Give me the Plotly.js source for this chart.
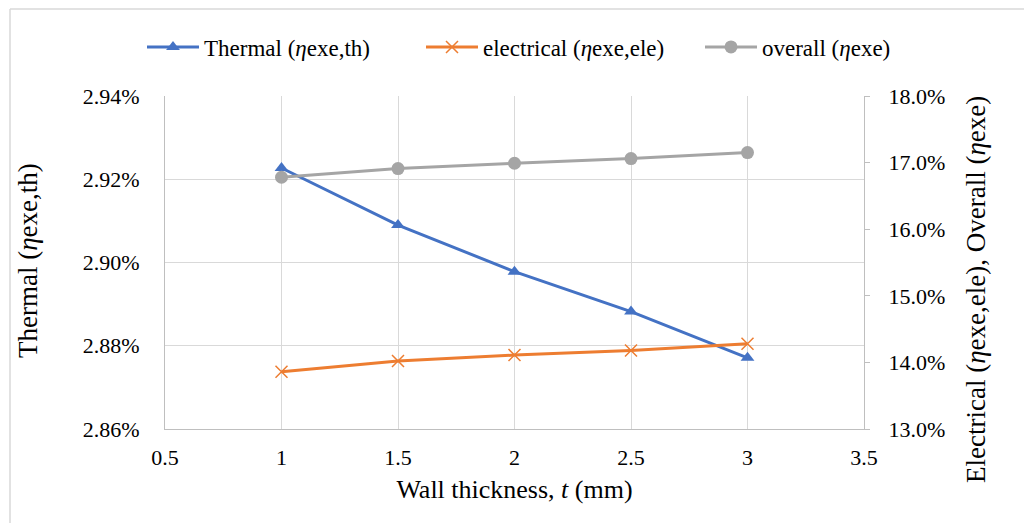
<!DOCTYPE html>
<html>
<head>
<meta charset="utf-8">
<script src="https://cdn.plot.ly/plotly-3.0.1.min.js"></script>
<style>
  html, body { margin: 0; padding: 0; background: #ffffff; }
  #chart { width: 1024px; height: 523px; }
</style>
</head>
<body>
<div id="chart"></div>
<script>
// Data
const wallThickness = [1, 1.5, 2, 2.5, 3];
const thermalEff    = [2.9227, 2.9090, 2.8978, 2.8882, 2.8771];   // % (left axis)
const electricalEff = [13.86, 14.02, 14.11, 14.18, 14.28];        // % (right axis)
const overallEff    = [16.78, 16.91, 16.99, 17.06, 17.15];        // % (right axis)

const seriesNames = [
  'Thermal (<i>η</i>exe,th)',
  'electrical (<i>η</i>exe,ele)',
  'overall (<i>η</i>exe)'
];
const xTitle = 'Wall thickness, <i>t</i> (mm)';
const yTitleLeft = 'Thermal (<i>η</i>exe,th)';
const yTitleRight = 'Electrical (<i>η</i>exe,ele), Overall (<i>η</i>exe)';

const FONT = 'Liberation Serif, Times New Roman, serif';
const AXIS_LINE = '#bfbfbf';
const GRID = '#d9d9d9';

const traces = [
  {
    x: wallThickness, y: thermalEff, name: seriesNames[0],
    type: 'scatter', mode: 'lines+markers', yaxis: 'y',
    line: { color: '#4472C4', width: 3 },
    marker: { symbol: 'triangle-up', size: 12, color: '#4472C4' }
  },
  {
    x: wallThickness, y: electricalEff, name: seriesNames[1],
    type: 'scatter', mode: 'lines+markers', yaxis: 'y2',
    line: { color: '#ED7D31', width: 3 },
    marker: { symbol: 'x-thin', size: 12, color: '#ED7D31', line: { color: '#ED7D31', width: 1.5 } }
  },
  {
    x: wallThickness, y: overallEff, name: seriesNames[2],
    type: 'scatter', mode: 'lines+markers', yaxis: 'y2',
    line: { color: '#A5A5A5', width: 3 },
    marker: { symbol: 'circle', size: 13, color: '#A5A5A5' }
  }
];

const px2x = p => (p - 165) / 699;
const py2y = p => (429 - p) / 333;

const layout = {
  width: 1024, height: 523,
  margin: { l: 165, r: 160, t: 96, b: 94 },
  paper_bgcolor: '#ffffff', plot_bgcolor: '#ffffff',
  font: { family: FONT, size: 22, color: '#000000' },
  showlegend: true,
  legend: {
    orientation: 'h', x: px2x(142), xanchor: 'left', y: py2y(47), yanchor: 'middle',
    font: { family: FONT, size: 23, color: '#000000' },
    bgcolor: 'rgba(0,0,0,0)',
    traceorder: 'normal', itemwidth: 52,
    entrywidth: 212, entrywidthmode: 'pixels'
  },
  xaxis: {
    range: [0.5, 3.5], dtick: 0.5, tick0: 0.5,
    showgrid: true, gridcolor: GRID, gridwidth: 1,
    showline: true, linecolor: AXIS_LINE, linewidth: 1,
    ticks: '', zeroline: false, ticklabelstandoff: 9,
    tickfont: { family: FONT, size: 22, color: '#000' },
    title: { text: xTitle, font: { family: FONT, size: 26, color: '#000' }, standoff: 10 }
  },
  yaxis: {
    range: [2.86, 2.94], dtick: 0.02, tick0: 2.86,
    tickformat: '.2f', ticksuffix: '%',
    showgrid: true, gridcolor: GRID, gridwidth: 1,
    showline: true, linecolor: AXIS_LINE, linewidth: 1,
    ticks: '', zeroline: false, ticklabelstandoff: 20,
    tickfont: { family: FONT, size: 22, color: '#000' }
  },
  yaxis2: {
    range: [13, 18], dtick: 1, tick0: 13,
    tickformat: '.1f', ticksuffix: '%',
    overlaying: 'y', side: 'right',
    showgrid: false, zeroline: false,
    showline: true, linecolor: AXIS_LINE, linewidth: 1,
    ticks: 'outside', ticklen: 5, tickcolor: AXIS_LINE, tickwidth: 1,
    ticklabelstandoff: 14,
    tickfont: { family: FONT, size: 22, color: '#000' }
  },
  annotations: [
    { text: yTitleLeft, xref: 'paper', yref: 'paper', x: px2x(28), y: py2y(261),
      xanchor: 'center', yanchor: 'middle', textangle: -90, showarrow: false,
      font: { family: FONT, size: 27, color: '#000' } },
    { text: yTitleRight, xref: 'paper', yref: 'paper', x: px2x(976), y: py2y(290),
      xanchor: 'center', yanchor: 'middle', textangle: -90, showarrow: false,
      font: { family: FONT, size: 27, color: '#000' } }
  ],
  shapes: [
    { type: 'line', xref: 'paper', yref: 'paper', x0: px2x(10), x1: px2x(1030), y0: py2y(9), y1: py2y(9), line: { color: GRID, width: 1.5 } },
    { type: 'line', xref: 'paper', yref: 'paper', x0: px2x(10), x1: px2x(10), y0: py2y(9), y1: py2y(530), line: { color: GRID, width: 1.5 } }
  ]
};

Plotly.newPlot('chart', traces, layout, { displayModeBar: false, staticPlot: true });
</script>
</body>
</html>
